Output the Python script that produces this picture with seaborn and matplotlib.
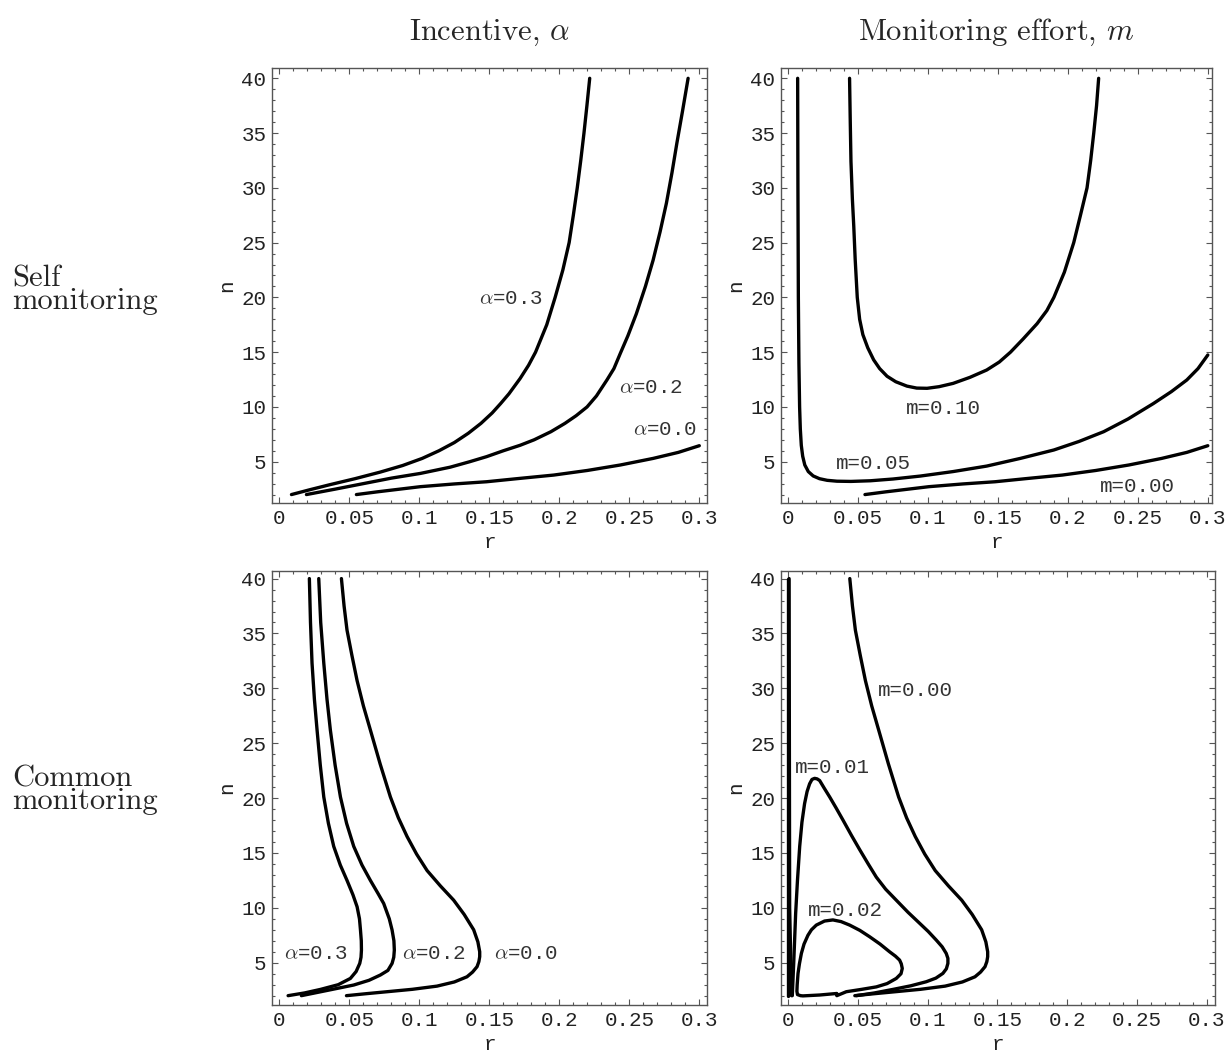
import matplotlib
matplotlib.use("Agg")
import matplotlib.pyplot as plt
from matplotlib.ticker import FixedLocator, MultipleLocator
import numpy as np
import pandas as pd
import seaborn as sns

sns.set_style("ticks")
plt.rcParams["font.family"] = ["Liberation Mono", "DejaVu Sans"]
plt.rcParams["mathtext.fontset"] = "cm"

# ---- data (r, n) ----
# self monitoring, incentive
self_a03_r = [0.0086, 0.022, 0.036, 0.054, 0.072, 0.088, 0.102, 0.114, 0.125, 0.135, 0.144, 0.152, 0.158, 0.164,
              0.172, 0.178, 0.183, 0.191, 0.197, 0.2025, 0.207, 0.21, 0.2128, 0.2153, 0.2176, 0.2197, 0.2217]
self_a03_n = [2.0, 2.45, 2.9, 3.45, 4.05, 4.65, 5.3, 6.0, 6.75, 7.6, 8.5, 9.45, 10.3, 11.2,
              12.6, 13.8, 15.0, 17.5, 20.0, 22.5, 25.0, 27.5, 30.0, 32.5, 35.0, 37.5, 40.0]
self_a02_r = [0.0193, 0.040, 0.060, 0.080, 0.1007, 0.122, 0.136, 0.148, 0.16, 0.172, 0.182, 0.194, 0.204, 0.212,
              0.2198, 0.2265, 0.234, 0.239, 0.2436, 0.249, 0.255, 0.2615, 0.267, 0.272, 0.2765, 0.2805, 0.284, 0.288, 0.292]
self_a02_n = [2.0, 2.5, 3.0, 3.5, 3.93, 4.5, 5.0, 5.46, 6.0, 6.5, 7.0, 7.74, 8.5, 9.2,
              10.0, 11.0, 12.46, 13.5, 14.9, 16.5, 18.5, 21.0, 23.4, 26.0, 28.6, 31.4, 34.1, 37.0, 40.0]
self_a00_r = [0.055, 0.07, 0.085, 0.1007, 0.125, 0.148, 0.172, 0.196, 0.22, 0.2436, 0.267, 0.285, 0.3]
self_a00_n = [2.0, 2.25, 2.48, 2.72, 2.97, 3.17, 3.48, 3.78, 4.2, 4.7, 5.3, 5.85, 6.46]

# self monitoring, monitoring effort (m=0.00 is the alpha=0.0 curve)
self_m005_r = [0.0069, 0.0071, 0.0074, 0.0078, 0.0083, 0.0088, 0.0095, 0.0105, 0.012, 0.0145, 0.018, 0.0225, 0.028,
               0.035, 0.045, 0.0589, 0.075, 0.0946, 0.118, 0.142, 0.166, 0.19, 0.208, 0.2256, 0.243, 0.261, 0.274,
               0.285, 0.293, 0.3]
self_m005_n = [40.0, 30.0, 20.0, 14.0, 10.0, 8.0, 6.5, 5.5, 4.7, 4.1, 3.7, 3.45, 3.3,
               3.22, 3.2, 3.26, 3.42, 3.69, 4.1, 4.6, 5.3, 6.07, 6.85, 7.74, 8.9, 10.3, 11.4,
               12.46, 13.5, 14.74]
self_m010_r = [0.044, 0.0445, 0.045, 0.046, 0.047, 0.048, 0.0495, 0.0512, 0.0535, 0.057, 0.0612, 0.0655, 0.0708,
               0.077, 0.085, 0.092, 0.0994, 0.108, 0.118, 0.13, 0.142, 0.151, 0.159, 0.168, 0.178, 0.185, 0.19,
               0.1975, 0.2042, 0.209, 0.2137, 0.2163, 0.2185, 0.2205, 0.222]
self_m010_n = [40.0, 36.0, 32.4, 29.0, 26.5, 23.5, 20.0, 18.0, 16.6, 15.4, 14.3, 13.5, 12.8,
               12.3, 11.9, 11.72, 11.7, 11.85, 12.15, 12.7, 13.37, 14.1, 15.0, 16.2, 17.6, 18.8, 20.0,
               22.3, 25.0, 27.5, 30.0, 32.5, 35.0, 37.5, 40.0]

# common monitoring, incentive
comm_a03_r = [0.0214, 0.0222, 0.0233, 0.025, 0.0269, 0.0292, 0.0317, 0.035, 0.0388, 0.0435, 0.0483, 0.0525,
              0.0555, 0.0572, 0.0579, 0.0585, 0.0586, 0.0583, 0.0574, 0.0548, 0.0507, 0.042, 0.0293, 0.018, 0.0062]
comm_a03_n = [40.0, 36.0, 32.3, 29.0, 26.2, 23.0, 20.1, 17.7, 15.6, 13.9, 12.5, 11.2,
              10.1, 9.0, 8.0, 7.0, 6.15, 5.5, 4.94, 4.2, 3.57, 3.0, 2.57, 2.25, 2.0]
comm_a02_r = [0.0281, 0.0295, 0.0317, 0.034, 0.0364, 0.0398, 0.0436, 0.048, 0.0531, 0.059, 0.065, 0.0705,
              0.0745, 0.0785, 0.0805, 0.0818, 0.0821, 0.0817, 0.0805, 0.0775, 0.0721, 0.064, 0.0531, 0.035, 0.0157]
comm_a02_n = [40.0, 36.0, 32.3, 29.0, 26.2, 23.0, 20.1, 17.7, 15.6, 13.9, 12.5, 11.3,
              10.4, 9.0, 7.98, 7.0, 6.15, 5.5, 4.94, 4.3, 3.88, 3.4, 2.97, 2.5, 2.0]
comm_a00_r = [0.0443, 0.0462, 0.0483, 0.0518, 0.0555, 0.06, 0.065, 0.072, 0.0793, 0.085, 0.0912, 0.098, 0.1055,
              0.115, 0.1245, 0.132, 0.1388, 0.1418, 0.1431, 0.1431, 0.1425, 0.1412, 0.138, 0.134, 0.125, 0.1126,
              0.095, 0.0769, 0.062, 0.0479]
comm_a00_n = [40.0, 37.5, 35.3, 33.0, 30.7, 28.4, 26.2, 23.1, 20.1, 18.2, 16.5, 14.9, 13.4,
              12.0, 10.7, 9.4, 8.0, 6.9, 6.0, 5.55, 5.1, 4.64, 4.15, 3.72, 3.25, 2.87,
              2.58, 2.36, 2.18, 2.0]

# common monitoring, monitoring effort (m=0.00 is the alpha=0.0 curve); None splits branches
comm_m001_r = [0.0003, 0.0003, None,
               0.0031, 0.0036, 0.0041, 0.0048, 0.0055, 0.0068, 0.0084, 0.010, 0.0119, 0.0137, 0.0155, 0.0172,
               0.0191, 0.0209, 0.0227, 0.026, 0.0299, 0.0345, 0.0394, 0.0455, 0.0514, 0.0575, 0.0633, 0.07,
               0.0776, 0.086, 0.0943, 0.1005, 0.1063, 0.1105, 0.1134, 0.1146, 0.1146, 0.1135, 0.111, 0.106,
               0.0991, 0.088, 0.0752, 0.062, 0.049]
comm_m001_n = [40.0, 2.0, None,
               2.0, 3.5, 4.94, 7.2, 9.5, 12.5, 15.6, 17.8, 19.5, 20.6, 21.3, 21.7,
               21.8, 21.75, 21.6, 20.9, 20.1, 19.1, 18.0, 16.6, 15.3, 14.0, 12.8, 11.7,
               10.7, 9.6, 8.6, 7.85, 7.06, 6.45, 5.85, 5.4, 4.94, 4.45, 4.03, 3.6,
               3.27, 2.9, 2.57, 2.25, 2.0]
comm_m002_r = [0.0008, 0.0012, 0.0025, None,
               0.035, 0.0418, 0.053, 0.0633, 0.071, 0.0776, 0.081, 0.0819, 0.0812, 0.08, 0.077, 0.0728, 0.066,
               0.0585, 0.0515, 0.0442, 0.038, 0.0322, 0.0262, 0.0203, 0.0168, 0.0143, 0.0115, 0.0096, 0.0082,
               0.0072, 0.0066, 0.0064, 0.0068, 0.009, 0.0107, 0.0227, 0.035]
comm_m002_n = [40.0, 10.0, 2.0, None,
               2.0, 2.36, 2.58, 2.8, 3.1, 3.57, 4.0, 4.48, 4.9, 5.24, 5.6, 6.0, 6.7,
               7.37, 7.95, 8.43, 8.75, 8.9, 8.8, 8.43, 8.0, 7.5, 6.7, 5.85, 4.9,
               4.03, 3.0, 2.4, 2.1, 2.0, 1.98, 2.06, 2.2]

x_ticks = [0, 0.05, 0.1, 0.15, 0.2, 0.25, 0.3]
x_tick_labels = ["0", "0.05", "0.1", "0.15", "0.2", "0.25", "0.3"]
y_ticks = [5, 10, 15, 20, 25, 30, 35, 40]

col_titles = ["Incentive, $\\alpha$", "Monitoring effort, $m$"]
row_titles = ["Self\nmonitoring", "Common\nmonitoring"]

W, H = 1232, 1055
fig = plt.figure(figsize=(W / 100, H / 100), dpi=100)


def px_axes(x0, y0, x1, y1):
    return fig.add_axes([x0 / W, 1 - y1 / H, (x1 - x0) / W, (y1 - y0) / H])


ax_tl = px_axes(272, 68, 707, 503)
ax_tr = px_axes(781, 68, 1212, 503)
ax_bl = px_axes(272, 571, 707, 1005)
ax_br = px_axes(781, 571, 1215, 1005)

panels = [
    (ax_tl, [(self_a03_r, self_a03_n), (self_a02_r, self_a02_n), (self_a00_r, self_a00_n)],
     [("$\\alpha$=0.3", 0.1657, 19.86), ("$\\alpha$=0.2", 0.2657, 11.8), ("$\\alpha$=0.0", 0.2757, 7.9)],
     (-0.0053, 0.3055), (1.23, 40.94)),
    (ax_tr, [(self_m010_r, self_m010_n), (self_m005_r, self_m005_n), (self_a00_r, self_a00_n)],
     [("m=0.10", 0.111, 9.9), ("m=0.05", 0.061, 4.8), ("m=0.00", 0.25, 2.78)],
     (-0.005, 0.303), (1.23, 40.94)),
    (ax_bl, [(comm_a03_r, comm_a03_n), (comm_a02_r, comm_a02_n), (comm_a00_r, comm_a00_n)],
     [("$\\alpha$=0.3", 0.0264, 5.88), ("$\\alpha$=0.2", 0.1107, 5.88), ("$\\alpha$=0.0", 0.1764, 5.88)],
     (-0.0053, 0.3055), (1.15, 40.69)),
    (ax_br, [(comm_m001_r, comm_m001_n), (comm_m002_r, comm_m002_n), (comm_a00_r, comm_a00_n)],
     [("m=0.00", 0.0913, 29.8), ("m=0.01", 0.0316, 22.8), ("m=0.02", 0.0413, 9.8)],
     (-0.005, 0.306), (1.15, 40.69)),
]

for ax, curves, labels, xlim, ylim in panels:
    for r, n in curves:
        r = np.array(r, dtype=float)
        n = np.array(n, dtype=float)
        # split on gaps so separate branches are not joined
        breaks = np.where(np.isnan(r))[0]
        for seg_r, seg_n in zip(np.split(r, breaks), np.split(n, breaks)):
            ok = ~np.isnan(seg_r)
            df = pd.DataFrame({"r": seg_r[ok], "n": seg_n[ok]})
            sns.lineplot(data=df, x="r", y="n", sort=False, estimator=None, color="black",
                         lw=2.4, ax=ax, solid_joinstyle="round")
    for txt, x, y in labels:
        ax.text(x, y, txt, ha="center", va="center", fontsize=15, color="#333333")
    ax.set_xlim(*xlim)
    ax.set_ylim(*ylim)
    ax.xaxis.set_major_locator(FixedLocator(x_ticks))
    ax.set_xticklabels(x_tick_labels)
    ax.xaxis.set_minor_locator(MultipleLocator(0.01))
    ax.yaxis.set_major_locator(FixedLocator(y_ticks))
    ax.yaxis.set_minor_locator(MultipleLocator(1))
    ax.tick_params(which="both", direction="in", top=True, right=True, colors="#555555",
                   labelcolor="#222222", labelsize=15, width=0.8)
    ax.tick_params(which="major", length=4.5, pad=4)
    ax.tick_params(which="minor", length=2.5)
    for s in ax.spines.values():
        s.set_color("#555555")
        s.set_linewidth(1.0)
        s.set_visible(True)
    ax.set_xlabel("r", fontsize=15, color="#222222", labelpad=4)
    ax.set_ylabel("n", fontsize=15, color="#222222", labelpad=4)

# column titles and row labels in Computer Modern
for cx, t in zip([489.5, 996.5], col_titles):
    fig.text(cx / W, 1 - 40 / H, t, ha="center", va="baseline", fontsize=22, family="cmr10")
for cy, t in zip([290, 790], row_titles):
    fig.text(12 / W, 1 - cy / H, t, ha="left", va="center", fontsize=22, family="cmr10",
             linespacing=0.78)

fig.savefig("out.png", dpi=100)
